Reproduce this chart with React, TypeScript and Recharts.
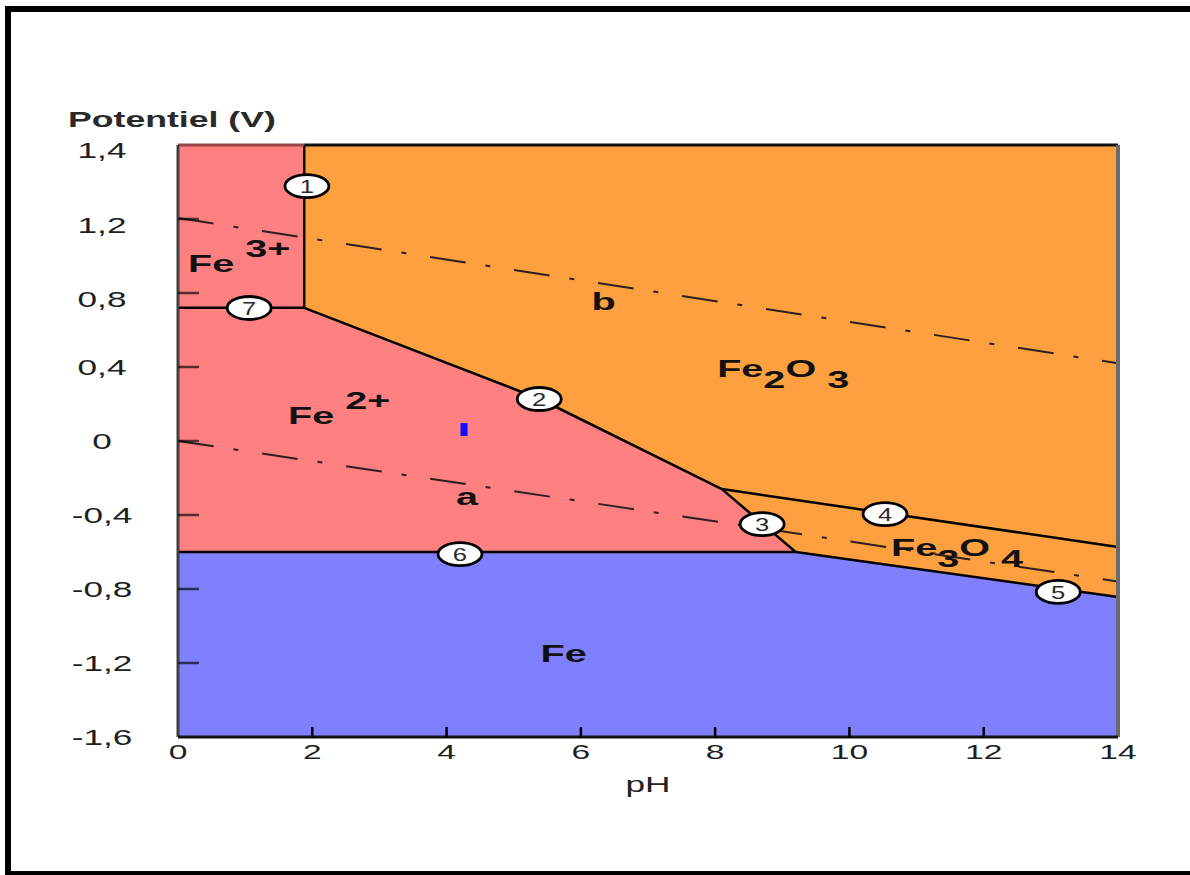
import React from 'react';
import { ComposedChart, XAxis, YAxis, Area, Line, Scatter } from 'recharts';

// ---------- axis ticks ----------
const X_TICKS = [0, 2, 4, 6, 8, 10, 12, 14];
const X_TICK_LABELS = ['0', '2', '4', '6', '8', '10', '12', '14'];
const Y_TICKS = [-1.6, -1.2, -0.8, -0.4, 0, 0.4, 0.8, 1.2, 1.6];
const Y_TICK_LABELS = ['-1,6', '-1,2', '-0,8', '-0,4', '0', '0,4', '0,8', '1,2', '1,4'];

// ---------- stability regions (pH, V) ----------
const ORANGE_REGION = [{ x: 0, y: 1.6 }, { x: 14, y: 1.6 }];
const PINK_REGION = [
  { x: 0, y: 1.6 }, { x: 1.88, y: 1.6 }, { x: 1.88, y: 0.72 },
  { x: 5.39, y: 0.227 }, { x: 8.1, y: -0.26 }, { x: 9.2, y: -0.6 },
];
const BLUE_REGION = [{ x: 0, y: -0.6 }, { x: 9.2, y: -0.6 }, { x: 14, y: -0.843 }];

// ---------- boundary lines ----------
const LINE_1 = [{ x: 1.88, y: 1.6 }, { x: 1.88, y: 0.72 }];
const LINE_7 = [{ x: 0, y: 0.72 }, { x: 1.88, y: 0.72 }];
const LINE_2 = [{ x: 1.88, y: 0.72 }, { x: 5.39, y: 0.227 }, { x: 8.1, y: -0.26 }];
const LINE_3 = [{ x: 8.1, y: -0.26 }, { x: 9.2, y: -0.6 }];
const LINE_4 = [{ x: 8.1, y: -0.26 }, { x: 14, y: -0.573 }];
const LINE_6 = [{ x: 0, y: -0.6 }, { x: 9.2, y: -0.6 }];
const LINE_5 = [{ x: 9.2, y: -0.6 }, { x: 14, y: -0.843 }];

// water stability lines
const LINE_A = [{ x: 0, y: 0 }, { x: 14, y: -0.76 }];
const LINE_B = [{ x: 0, y: 1.205 }, { x: 14, y: 0.42 }];

// plot frame
const FRAME_TOP_LEFT = [{ x: 0, y: 1.6 }, { x: 1.88, y: 1.6 }];
const FRAME_TOP_RIGHT = [{ x: 1.88, y: 1.6 }, { x: 14, y: 1.6 }];
const FRAME_LEFT = [{ x: 0, y: -1.6 }, { x: 0, y: 1.6 }];
const FRAME_RIGHT = [{ x: 14, y: -1.6 }, { x: 14, y: 1.6 }];
const FRAME_BOTTOM = [{ x: 0, y: -1.6 }, { x: 14, y: -1.6 }];

// numbered markers
const MARKERS = [
  { x: 1.92, y: 1.378, n: '1' },
  { x: 5.38, y: 0.227, n: '2' },
  { x: 8.7, y: -0.449, n: '3' },
  { x: 10.53, y: -0.395, n: '4' },
  { x: 13.11, y: -0.816, n: '5' },
  { x: 4.2, y: -0.611, n: '6' },
  { x: 1.06, y: 0.719, n: '7' },
];

const BLUE_MARK = [{ x: 4.26, y: 0.062 }];

// region labels
const LABELS = [
  { x: 0.15, y: 0.914, parts: [{ t: 'Fe', k: 'n' }, { t: ' 3+', k: 'sup' }] },
  { x: 1.64, y: 0.092, parts: [{ t: 'Fe', k: 'n' }, { t: ' 2+', k: 'sup' }] },
  { x: 4.14, y: -0.346, parts: [{ t: 'a', k: 'n' }] },
  { x: 6.16, y: 0.708, parts: [{ t: 'b', k: 'n' }] },
  { x: 8.03, y: 0.346, parts: [{ t: 'Fe', k: 'n' }, { t: '2', k: 'sub' }, { t: 'O', k: 'n' }, { t: ' 3', k: 'sub' }] },
  { x: 10.62, y: -0.622, parts: [{ t: 'Fe', k: 'n' }, { t: '3', k: 'sub' }, { t: 'O', k: 'n' }, { t: ' 4', k: 'sub' }] },
  { x: 5.4, y: -1.195, parts: [{ t: 'Fe', k: 'n' }] },
];

const FONT = "'Liberation Sans', Arial, Helvetica, sans-serif";
const SX = 1.65;
const PLOT_LEFT = 178;
const PLOT_BOTTOM = 737;

function SText(props: any) {
  const { x, y, size, weight = 'normal', fill = '#222', anchor = 'start', sx = SX, children } = props;
  return (
    <g transform={`translate(${x},${y}) scale(${sx},1)`}>
      <text x={0} y={0} fontSize={size} fontWeight={weight} fill={fill} textAnchor={anchor} fontFamily={FONT}>
        {children}
      </text>
    </g>
  );
}

const XTick = (props: any) => {
  const { x, payload, index } = props;
  const v = payload.value;
  const inner = v > 0 && v < 14;
  return (
    <g>
      {inner && <line x1={x} x2={x} y1={PLOT_BOTTOM} y2={PLOT_BOTTOM - 10} stroke="#000" strokeWidth={2.5} />}
      <SText x={x} y={759} size={21} anchor="middle" fill="#1e1e1e" sx={1.6}>
        {X_TICK_LABELS[index] ?? String(v)}
      </SText>
    </g>
  );
};

const YTick = (props: any) => {
  const { y, payload, index } = props;
  const v = payload.value;
  const inner = v > -1.6 && v < 1.6;
  const dy = v >= 1.6 ? 13 : v >= 0.8 ? 14 : 8;
  return (
    <g>
      {inner && <line x1={PLOT_LEFT} x2={PLOT_LEFT + 21} y1={y} y2={y} stroke="rgba(0,0,0,0.65)" strokeWidth={2.5} />}
      <SText x={102} y={y + dy} size={22} anchor="middle" fill="#1e1e1e" sx={1.6}>
        {Y_TICK_LABELS[index] ?? String(v)}
      </SText>
    </g>
  );
};

const markerShape = (p: any) => {
  const { cx, cy, payload } = p;
  return (
    <g>
      <ellipse cx={cx} cy={cy} rx={22} ry={11.5} fill="#fff" stroke="#000" strokeWidth={2.8} />
      <SText x={cx} y={cy + 7} size={19} anchor="middle" fill="#2a2a2a" sx={1.35}>{payload.n}</SText>
    </g>
  );
};

const blueShape = (p: any) => {
  const { cx, cy } = p;
  return <rect x={cx - 3.5} y={cy - 6.5} width={7} height={13} fill="#1010ff" />;
};

const labelShape = (p: any) => {
  const { cx, cy, payload } = p;
  const off = (k: string) => (k === 'sup' ? -15 : k === 'sub' ? 11 : 0);
  return (
    <g transform={`translate(${cx},${cy}) scale(${SX},1)`}>
      <text x={0} y={0} fontSize={24} fontWeight="bold" fill="#111" fontFamily={FONT}>
        {payload.parts.map((pt: any, i: number) => (
          <tspan key={i} y={off(pt.k)} style={{ whiteSpace: 'pre' }}>{pt.t}</tspan>
        ))}
      </text>
    </g>
  );
};

const lineProps = {
  dataKey: 'y',
  dot: false,
  activeDot: false,
  isAnimationActive: false,
  legendType: 'none' as const,
};

export default function App() {
  return (
    <div style={{ position: 'absolute', left: 0, top: 0, width: 1190, height: 875, overflow: 'hidden', background: '#fff' }}>
      <div
        style={{
          position: 'absolute', left: 5, top: 6, width: 1400, height: 869, boxSizing: 'border-box',
          borderLeft: '6px solid #000', borderTop: '6px solid #000', borderBottom: '4px solid #000',
        }}
      />
      <div style={{ position: 'absolute', left: 0, top: 0 }}>
        <ComposedChart width={1190} height={875} margin={{ top: 145, right: 72, bottom: 108, left: 118 }}>
          <Area data={ORANGE_REGION} dataKey="y" baseValue={-1.6} fill="#ffa040" fillOpacity={1} stroke="none" isAnimationActive={false} />
          <Area data={PINK_REGION} dataKey="y" baseValue={-1.6} fill="#ff8080" fillOpacity={1} stroke="none" isAnimationActive={false} />
          <Area data={BLUE_REGION} dataKey="y" baseValue={-1.6} fill="#8080ff" fillOpacity={1} stroke="none" isAnimationActive={false} />

          <Line data={LINE_A} {...lineProps} stroke="#2a2020" strokeWidth={2} strokeDasharray="36 20 5 24" />
          <Line data={LINE_B} {...lineProps} stroke="#2a2020" strokeWidth={2} strokeDasharray="36 20 5 24" />

          <Line data={LINE_1} {...lineProps} stroke="#000" strokeWidth={2.5} />
          <Line data={LINE_7} {...lineProps} stroke="#000" strokeWidth={2.5} />
          <Line data={LINE_2} {...lineProps} stroke="#000" strokeWidth={2.5} />
          <Line data={LINE_3} {...lineProps} stroke="#000" strokeWidth={2.5} />
          <Line data={LINE_4} {...lineProps} stroke="#000" strokeWidth={2.5} />
          <Line data={LINE_6} {...lineProps} stroke="#000" strokeWidth={2.5} />
          <Line data={LINE_5} {...lineProps} stroke="#000" strokeWidth={2.5} />

          <Line data={FRAME_TOP_LEFT} {...lineProps} stroke="#9a4646" strokeWidth={3} />
          <Line data={FRAME_TOP_RIGHT} {...lineProps} stroke="#111" strokeWidth={3} />
          <Line data={FRAME_LEFT} {...lineProps} stroke="#404040" strokeWidth={3} />
          <Line data={FRAME_RIGHT} {...lineProps} stroke="#6a6a6a" strokeWidth={4} />
          <Line data={FRAME_BOTTOM} {...lineProps} stroke="#111" strokeWidth={3} />

          <Scatter data={BLUE_MARK} dataKey="y" shape={blueShape} isAnimationActive={false} legendType="none" />
          <Scatter data={LABELS} dataKey="y" shape={labelShape} isAnimationActive={false} legendType="none" />
          <Scatter data={MARKERS} dataKey="y" shape={markerShape} isAnimationActive={false} legendType="none" />

          <XAxis
            type="number" dataKey="x" domain={[0, 14]} ticks={X_TICKS} interval={0}
            axisLine={false} tickLine={false} tick={XTick} height={30}
          />
          <YAxis
            type="number" dataKey="y" domain={[-1.6, 1.6]} ticks={Y_TICKS} interval={0}
            axisLine={false} tickLine={false} tick={YTick} width={60}
          />
        </ComposedChart>
      </div>
      <svg style={{ position: 'absolute', left: 0, top: 0, pointerEvents: 'none' }} width={1190} height={875}>
        <SText x={68} y={127} size={22} weight="bold" fill="#2a2a2a" sx={1.62}>Potentiel (V)</SText>
        <SText x={648} y={792} size={22} anchor="middle" fill="#222" sx={1.6}>pH</SText>
      </svg>
    </div>
  );
}
